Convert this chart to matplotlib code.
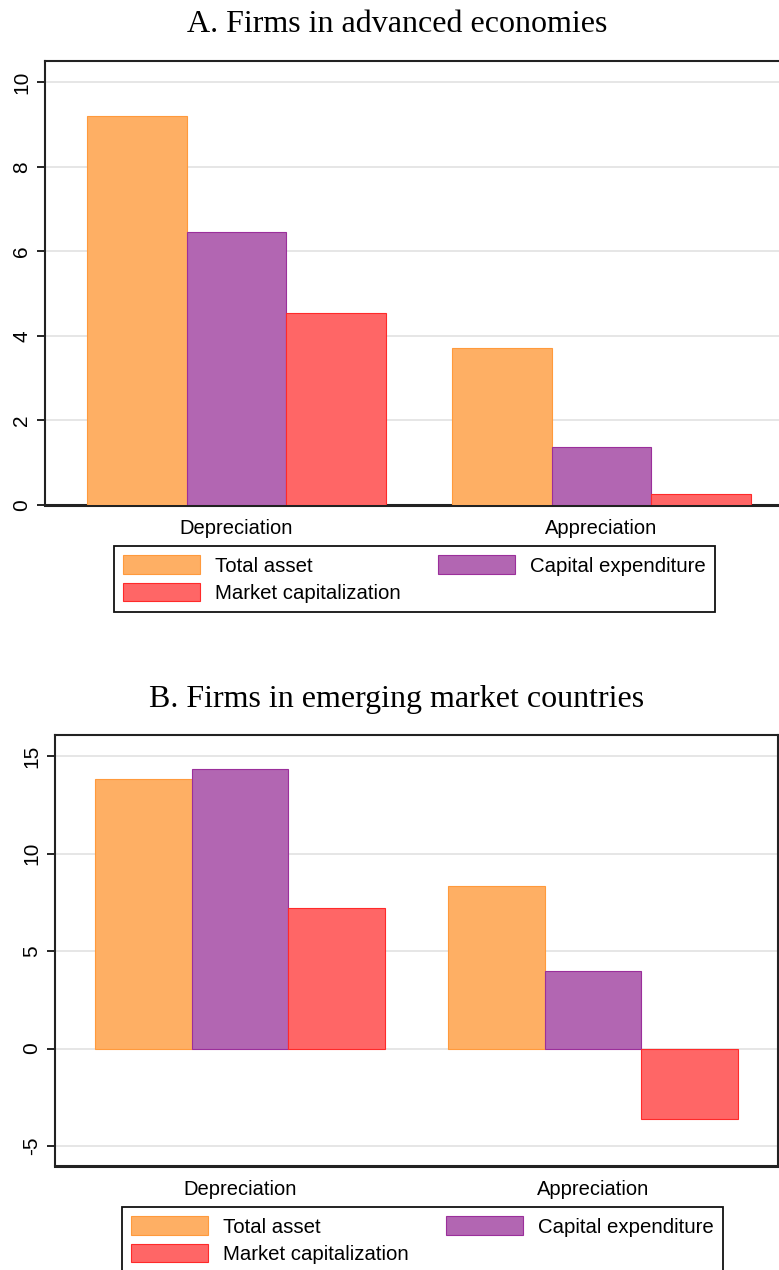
import matplotlib
matplotlib.use("Agg")
import matplotlib.pyplot as plt
import numpy as np
from matplotlib.patches import Patch

plt.rcParams["font.family"] = ["Liberation Sans", "DejaVu Sans"]

categories = ["Depreciation", "Appreciation"]
series = ["Total asset", "Capital expenditure", "Market capitalization"]

# panel A: advanced economies
adv_total = [9.2, 3.72]
adv_capex = [6.45, 1.36]
adv_mcap = [4.53, 0.25]

# panel B: emerging market countries
em_total = [13.8, 8.32]
em_capex = [14.32, 3.98]
em_mcap = [7.23, -3.63]

FILL = ["#FEAF64", "#B266B2", "#FF6666"]
EDGE = ["#FF9A3C", "#9B2F9B", "#FF2A2A"]

W, H = 779, 1270
fig = plt.figure(figsize=(W / 100, H / 100), dpi=100)


def px_axes(left, top, right, bottom):
    return fig.add_axes([left / W, 1 - bottom / H, (right - left) / W, (bottom - top) / H])


def draw_panel(ax, values, ylim, yticks):
    x = np.arange(len(categories))
    w = 0.2735
    for i, vals in enumerate(values):
        ax.bar(x + (i - 1) * w, vals, width=w, color=FILL[i], edgecolor=EDGE[i],
               linewidth=0.8, zorder=3)
    ax.set_xlim(-0.525, 1.525)
    ax.set_ylim(*ylim)
    ax.set_yticks(yticks)
    ax.set_yticklabels([str(t) for t in yticks], rotation=90, va="center", fontsize=15)
    ax.set_xticks(x)
    ax.set_xticklabels(categories, fontsize=14.5)
    ax.tick_params(axis="x", length=0, pad=10)
    ax.tick_params(axis="y", length=6, width=1.2, pad=4, direction="out")
    ax.grid(True, axis="y", color="#E4E4E4", linewidth=1.3, zorder=0)
    ax.set_axisbelow(True)
    for s in ax.spines.values():
        s.set_color("#222222")
        s.set_linewidth(1.5)
    ax.spines["bottom"].set_linewidth(2.2)


def draw_legend(ax, left, top):
    # column-major fill: first column holds total asset and market cap
    handles = [Patch(facecolor=FILL[i], edgecolor=EDGE[i], linewidth=0.8) for i in (0, 2, 1)]
    labels = [series[i] for i in (0, 2, 1)]
    leg = ax.legend(handles, labels, ncol=2, loc="upper left",
                    bbox_to_anchor=(left / W, 1 - top / H),
                    bbox_transform=fig.transFigure, borderaxespad=0, fontsize=14.7,
                    handlelength=3.77, handleheight=1.03, handletextpad=0.75,
                    labelspacing=0.35, borderpad=0.45, columnspacing=1.8,
                    fancybox=False, framealpha=1, edgecolor="#111111")
    leg.get_frame().set_linewidth(1.3)


# A. advanced economies
ax_a = px_axes(45, 61, 793, 505)
draw_panel(ax_a, [adv_total, adv_capex, adv_mcap], (0, 10.5), [0, 2, 4, 6, 8, 10])
draw_legend(ax_a, 114, 546)
fig.text(397 / W, 1 - 24 / H, "A. Firms in advanced economies", ha="center", va="center",
         fontsize=23, family=["Liberation Serif", "DejaVu Serif"])

# B. emerging market countries
ax_b = px_axes(55, 735, 778, 1166)
draw_panel(ax_b, [em_total, em_capex, em_mcap], (-6.02, 16.08), [-5, 0, 5, 10, 15])
draw_legend(ax_b, 122, 1207)
fig.text(397 / W, 1 - 700 / H, "B. Firms in emerging market countries", ha="center", va="center",
         fontsize=23, family=["Liberation Serif", "DejaVu Serif"])

fig.savefig("out.png", dpi=100)
